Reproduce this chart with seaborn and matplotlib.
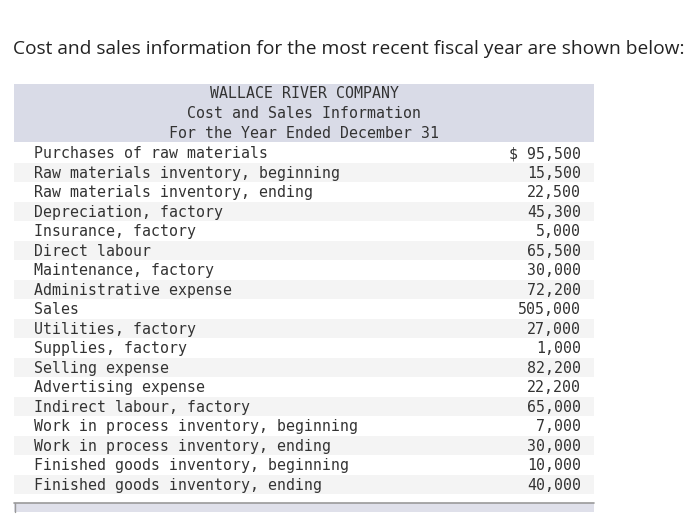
import seaborn as sns
import matplotlib.pyplot as plt

intro = "Cost and sales information for the most recent fiscal year are shown below:"
header_lines = ["WALLACE RIVER COMPANY", "Cost and Sales Information", "For the Year Ended December 31"]
items = [
    "Purchases of raw materials",
    "Raw materials inventory, beginning",
    "Raw materials inventory, ending",
    "Depreciation, factory",
    "Insurance, factory",
    "Direct labour",
    "Maintenance, factory",
    "Administrative expense",
    "Sales",
    "Utilities, factory",
    "Supplies, factory",
    "Selling expense",
    "Advertising expense",
    "Indirect labour, factory",
    "Work in process inventory, beginning",
    "Work in process inventory, ending",
    "Finished goods inventory, beginning",
    "Finished goods inventory, ending",
]
amounts = [95500, 15500, 22500, 45300, 5000, 65500, 30000, 72200, 505000,
           27000, 1000, 82200, 22200, 65000, 7000, 30000, 10000, 40000]

sns.set_theme(style="white")
plt.rcParams['font.family'] = ['Open Sans', 'DejaVu Sans']

W, H = 700, 519
fig = plt.figure(figsize=(7, 5.19), dpi=100)

# page layer in pixel units
page = fig.add_axes([0, 0, 1, 1])
page.set_xlim(0, W)
page.set_ylim(H, 0)
page.axis("off")
page.text(13, 49, intro, fontsize=13.75, color="#222222", va="center", ha="left")

page.add_patch(plt.Rectangle((14, 84), 580, 58, color="#d9dbe7", lw=0))
for i, line in enumerate(header_lines):
    page.text(304, 94 + 19.5 * i, line, family="DejaVu Sans Mono", fontsize=10.7,
              color="#333333", ha="center", va="center")

# scrollbar at the bottom
page.add_patch(plt.Rectangle((14, 503), 580, 9, color="#dfe0ea", lw=0))
page.plot([14, 594], [503, 503], color="#9a9a9a", lw=1.2)
page.plot([14.5, 14.5], [503, 512], color="#9a9a9a", lw=1)

# table rows
tbl = fig.add_axes([14 / W, 1 - 494 / H, 580 / W, 351 / H])
n = len(items)
rows = list(range(n))
shade = ["#f4f4f4" if r % 2 else "#ffffff" for r in rows]
tbl.barh(rows, [580] * n, left=0, height=1.0, color=shade, linewidth=0)
tbl.set_xlim(0, 580)
tbl.set_ylim(n - 0.5, -0.5)
tbl.axis("off")

for r, (name, amt) in enumerate(zip(items, amounts)):
    val = f"{amt:,}"
    if r == 0:
        val = "$ " + val
    tbl.text(20, r + 0.05, name, family="DejaVu Sans Mono", fontsize=10.7,
             color="#333333", ha="left", va="center")
    tbl.text(567, r + 0.05, val, family="DejaVu Sans Mono", fontsize=10.7,
             color="#333333", ha="right", va="center")

fig.savefig("out.png", dpi=100)
